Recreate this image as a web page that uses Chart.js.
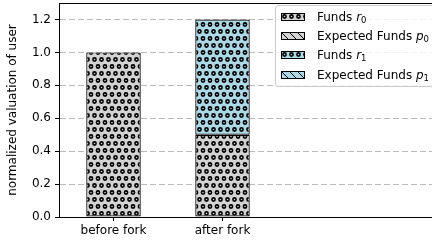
<!DOCTYPE html>
<html>
<head>
<meta charset="utf-8">
<script src="https://cdn.jsdelivr.net/npm/chart.js@4"></script>
<style>
  html, body { margin: 0; padding: 0; background: #fff; overflow: hidden; width: 432px; height: 241px; }
  #wrap { position: relative; width: 495px; height: 241px; }
  #legend {
    position: absolute; left: 275px; top: 5px;
    background: rgba(255,255,255,0.8);
    border: 1px solid #cccccc; border-radius: 3px;
    padding: 1px 8px 2px 5px;
    font-family: "DejaVu Sans", sans-serif; font-size: 12px; color: #000;
    white-space: nowrap;
  }
  .row { height: 19.3px; display: flex; align-items: center; }
  .row canvas { width: 24px; height: 8px; margin-right: 12px; display: block; }
  .row sub { font-size: 8.5px; vertical-align: -2px; line-height: 0; }
  .row i { font-style: italic; }
</style>
</head>
<body>
<div id="wrap">
  <canvas id="c" width="495" height="241"></canvas>
  <div id="legend"></div>
</div>
<script>
// ---- data ----
const categories = ['before fork', 'after fork'];
const fundsR0    = [1.0, 0.5];
const expectedP0 = [0, 0];
const fundsR1    = [0, 0.7];
const expectedP1 = [0, 0];
const yTicks     = [0, 0.2, 0.4, 0.6, 0.8, 1.0, 1.2];
const seriesLabels = [
  { name: 'Funds ',          sym: 'r', sub: '0' },
  { name: 'Expected Funds ', sym: 'p', sub: '0' },
  { name: 'Funds ',          sym: 'r', sub: '1' },
  { name: 'Expected Funds ', sym: 'p', sub: '1' }
];

const GREY = '#d3d3d3';
const BLUE = '#add8e6';

function dotsTile(bg) {
  const t = document.createElement('canvas');
  t.width = 14; t.height = 14;
  const g = t.getContext('2d');
  g.fillStyle = bg; g.fillRect(0, 0, 14, 14);
  g.strokeStyle = '#000'; g.lineWidth = 1.6;
  const pts = [[3.5,3.5],[10.5,3.5],[0,10.5],[7,10.5],[14,10.5]];
  for (const [x, y] of pts) { g.beginPath(); g.arc(x, y, 1.6, 0, Math.PI*2); g.stroke(); }
  return t;
}
function hatchTile(bg) {
  const t = document.createElement('canvas');
  t.width = 8; t.height = 8;
  const g = t.getContext('2d');
  g.fillStyle = bg; g.fillRect(0, 0, 8, 8);
  g.strokeStyle = '#000'; g.lineWidth = 1;
  g.beginPath();
  g.moveTo(-1, -1); g.lineTo(9, 9);
  g.moveTo(-1, 7); g.lineTo(1, 9);
  g.moveTo(7, -1); g.lineTo(9, 1);
  g.stroke();
  return t;
}
const ctx = document.getElementById('c').getContext('2d');
const styles = [
  { tile: dotsTile(GREY) },
  { tile: hatchTile(GREY) },
  { tile: dotsTile(BLUE) },
  { tile: hatchTile(BLUE) }
];
styles.forEach(s => s.pattern = ctx.createPattern(s.tile, 'repeat'));

const seriesData = [fundsR0, expectedP0, fundsR1, expectedP1];
const drawOrder = [0, 2, 1, 3];

Chart.defaults.font.family = '"DejaVu Sans", sans-serif';
Chart.defaults.font.size = 12;
Chart.defaults.color = '#000';

const datasets = seriesData.map((d, i) => ({
  label: seriesLabels[i].name + seriesLabels[i].sym + seriesLabels[i].sub,
  data: d,
  backgroundColor: styles[i].pattern,
  borderColor: '#000',
  borderWidth: 1.2,
  borderSkipped: false,
  categoryPercentage: 1.0,
  barPercentage: 0.5,
  order: drawOrder[i]
}));

const topSpine = {
  id: 'topSpine',
  afterDraw(chart) {
    const a = chart.chartArea, c = chart.ctx;
    c.save();
    c.strokeStyle = '#000'; c.lineWidth = 1;
    c.beginPath(); c.moveTo(a.left, Math.round(a.top) + 0.5); c.lineTo(a.right, Math.round(a.top) + 0.5); c.stroke();
    c.restore();
  }
};

new Chart(ctx, {
  type: 'bar',
  data: { labels: [...categories, '', ''], datasets },
  plugins: [topSpine],
  options: {
    responsive: false,
    animation: false,
    devicePixelRatio: 1,
    layout: { padding: { left: 0, right: 0, top: 3, bottom: 0 } },
    plugins: { legend: { display: false }, tooltip: { enabled: false } },
    scales: {
      x: {
        stacked: true,
        grid: {
          offset: false,
          drawOnChartArea: false, drawTicks: true, tickLength: 4, tickWidth: 1,
          tickColor: (c) => c.index < categories.length ? '#000' : 'rgba(0,0,0,0)'
        },
        border: { display: true, color: '#000', width: 1 },
        ticks: { padding: 3, maxRotation: 0, autoSkip: false, color: '#000' },
        afterFit: (s) => { s.height = 24; s.paddingLeft = 0; s.paddingRight = 0; }
      },
      y: {
        stacked: true,
        min: 0, max: 1.3,
        afterBuildTicks: (s) => { s.ticks = yTicks.map(v => ({ value: v })); },
        ticks: { callback: (v) => Number(v).toFixed(1), padding: 4, color: '#000' },
        grid: { color: '#b8bdba', lineWidth: 1, drawTicks: true, tickLength: 4, tickColor: '#000', tickWidth: 1 },
        border: { display: true, color: '#000', width: 1, dash: [6, 3] },
        title: { display: true, text: 'normalized valuation of user', color: '#000', font: { size: 12 }, padding: { top: 6, bottom: 0 } },
        afterFit: (s) => { s.width = 59; s.paddingTop = 0; s.paddingBottom = 0; }
      }
    }
  }
});

// ---- HTML legend ----
const leg = document.getElementById('legend');
seriesLabels.forEach((lab, i) => {
  const row = document.createElement('div');
  row.className = 'row';
  const h = document.createElement('canvas');
  h.width = 24; h.height = 8;
  const g = h.getContext('2d');
  g.fillStyle = g.createPattern(styles[i].tile, 'repeat');
  g.fillRect(0, 0, 24, 8);
  g.strokeStyle = '#000'; g.lineWidth = 1;
  g.strokeRect(0.5, 0.5, 23, 7);
  row.appendChild(h);
  const sp = document.createElement('span');
  sp.appendChild(document.createTextNode(lab.name));
  const it = document.createElement('i'); it.textContent = lab.sym;
  const sb = document.createElement('sub'); sb.textContent = lab.sub;
  sp.appendChild(it); sp.appendChild(sb);
  row.appendChild(sp);
  leg.appendChild(row);
});
</script>
</body>
</html>
